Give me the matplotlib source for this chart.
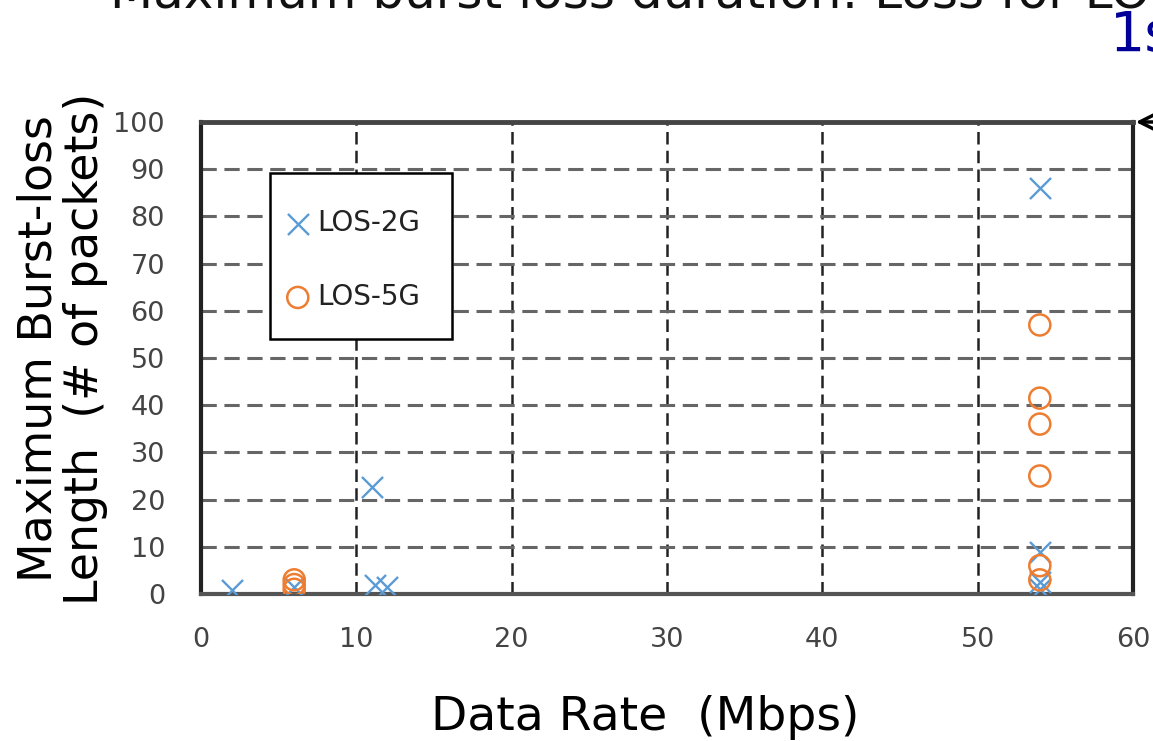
import matplotlib
matplotlib.use("agg")
import matplotlib.pyplot as plt
from matplotlib.patches import Rectangle

# LOS-2G (x markers)
rate_2g = [2, 6, 11, 11.2, 12, 54, 54, 54, 54]
burst_2g = [0.8, 1.5, 22.7, 2, 1.5, 86, 9, 2.5, 1]
# LOS-5G (circles)
rate_5g = [6, 6, 6, 54, 54, 54, 54, 54, 54]
burst_5g = [3, 2, 1, 57, 41.5, 36, 25, 6, 3]

xticks = [0, 10, 20, 30, 40, 50, 60]
yticks = [0, 10, 20, 30, 40, 50, 60, 70, 80, 90, 100]

blue = "#5b9bd5"
orange = "#ed7d31"

fig = plt.figure(figsize=(11.53, 7.41), dpi=100)
ax = fig.add_axes([201 / 1153, 1 - 594 / 741, 932 / 1153, 472 / 741])

ax.scatter(rate_2g, burst_2g, marker="x", s=230, color=blue, linewidths=1.7,
           label="LOS-2G", zorder=5)
ax.scatter(rate_5g, burst_5g, marker="o", s=230, facecolors="none",
           edgecolors=orange, linewidths=1.8, label="LOS-5G", zorder=5)

ax.set_xlim(0, 60)
ax.set_ylim(0, 100)
ax.set_xticks(xticks)
ax.set_yticks(yticks)

# grid: black dashed verticals, gray dashed horizontals
for x in xticks[1:-1]:
    ax.axvline(x, color="#222222", linestyle=(0, (5, 2.5)), linewidth=1.8, zorder=1)
for y in yticks[1:-1]:
    ax.axhline(y, color="#666666", linestyle=(0, (5, 2.5)), linewidth=2.2, zorder=1)

for side in ["left", "bottom", "right"]:
    ax.spines[side].set_linewidth(3)
    ax.spines[side].set_color("#222222")
ax.spines["bottom"].set_color("#555555")
ax.spines["top"].set_linewidth(3.5)
ax.spines["top"].set_color("#444444")

ax.tick_params(axis="both", length=0, labelsize=19.5, labelcolor="#444444")
ax.tick_params(axis="y", pad=26)
ax.tick_params(axis="x", pad=24)

ax.set_ylabel("Maximum Burst-loss\nLength  (# of packets)", fontsize=33,
              linespacing=1.05)
ax.yaxis.set_label_coords(-0.1, 0.52)
ax.set_xlabel("Data Rate  (Mbps)", fontsize=34)
ax.xaxis.set_label_coords(0.477, -0.215)

# legend box drawn separately so its shape matches
ax.add_patch(Rectangle((0.074, 0.540), 0.195, 0.352, transform=ax.transAxes,
                       facecolor="white", edgecolor="black", linewidth=1.8,
                       zorder=6))
leg = ax.legend(loc="center", bbox_to_anchor=(0.162, 0.708), frameon=False,
                fontsize=20, handletextpad=0.2, labelspacing=1.65,
                borderpad=0, handlelength=1.0)
leg.set_zorder(7)
for t in leg.get_texts():
    t.set_color("#222222")

# cropped title and annotation at the top
fig.text(110 / 1153, 1 + 6 / 741, "Maximum burst loss duration: Loss for LOS",
         fontsize=36, va="center", ha="left", color="#111111")
fig.text(1110 / 1153, 1 - 36 / 741, "1s", fontsize=40, va="center", ha="left",
         color="#000099")
ax.annotate("", xy=(60, 100), xycoords="data",
            xytext=(1.05, 1.0), textcoords="axes fraction",
            arrowprops=dict(arrowstyle="->", color="black", lw=2.5,
                            mutation_scale=28))

fig.savefig("out.png", dpi=100)
